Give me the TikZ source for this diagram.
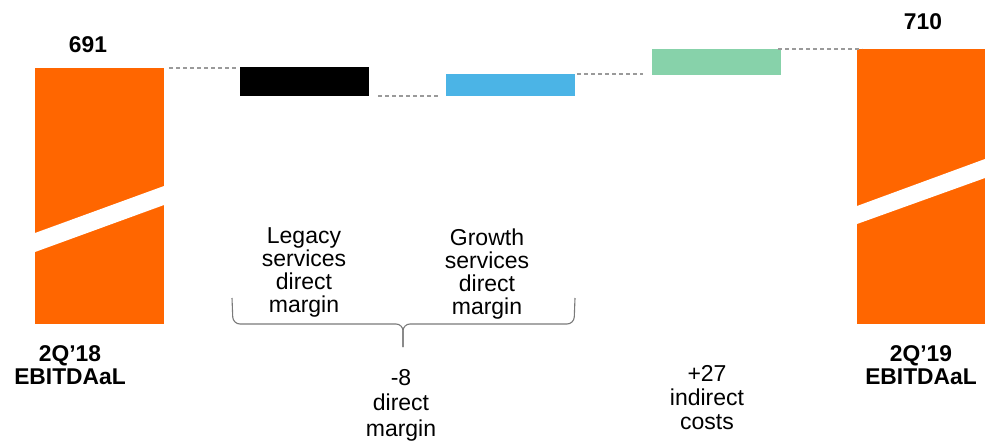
\documentclass[tikz,border=0pt]{standalone}
\usepackage{fontspec}
\setmainfont{Liberation Sans}
\definecolor{obar}{HTML}{FF6600}
\definecolor{bbar}{HTML}{4BB4E6}
\definecolor{gbar}{HTML}{87D2AA}
\definecolor{dashgray}{HTML}{9A9A9A}
\definecolor{bracegray}{HTML}{7A7A7A}
\begin{document}
\begin{tikzpicture}[x=1pt,y=-1pt,
  bar/.style={draw=none,inner sep=0pt,outer sep=0pt,anchor=north west},
  conn/.style={draw=dashgray,line width=1.4pt,dash pattern=on 4pt off 3pt},
  bracepath/.style={draw=bracegray,line width=1.1pt,rounded corners=7pt},
  lbl/.style={inner sep=0pt,align=center,font=\fontsize{23}{23}\selectfont},
  blbl/.style={inner sep=0pt,align=center,font=\fontsize{22.8}{23}\selectfont\bfseries},
  gap/.style={fill=white,draw=none}]
\useasboundingbox (0,0) rectangle (985,444);
% bars
\node[bar,fill=obar,minimum width=129pt,minimum height=256pt] (L) at (35,68) {};
\node[bar,fill=black,minimum width=129pt,minimum height=29pt] (B) at (240,67) {};
\node[bar,fill=bbar,minimum width=129pt,minimum height=22pt] (U) at (446,74) {};
\node[bar,fill=gbar,minimum width=129pt,minimum height=26pt] (G) at (652,49) {};
\node[bar,fill=obar,minimum width=128pt,minimum height=275pt] (R) at (857,49) {};
% break stripes
\fill[gap] (35,233) -- (164,186) -- (164,205) -- (35,252) -- cycle;
\fill[gap] (857,206) -- (985,159) -- (985,178) -- (857,224) -- cycle;
% connectors
\draw[conn] ([xshift=5pt]L.north east) -- ([xshift=-3pt]L.north east -| B.west);
\draw[conn] ([xshift=9pt]B.south east) -- ([xshift=-7pt]B.south east -| U.west);
\draw[conn] ([xshift=2pt]U.north east) -- ([xshift=-9pt]U.north east -| G.west);
\draw[conn] ([xshift=-3pt]G.north east) -- ([xshift=5pt]G.north east -| R.west);
% values
\node[blbl,anchor=base] (v1) at (88,52.7) {691};
\node[blbl,anchor=base] (v2) at (923,29.3) {710};
% category labels
\node[blbl,anchor=north] (c1) at (70,345) {2Q’18\\EBITDAaL};
\node[blbl,anchor=north] (c2) at (921,345) {2Q’19\\EBITDAaL};
\node[lbl,anchor=north] (t1) at (304,227) {Legacy\\services\\direct\\margin};
\node[lbl,anchor=north] (t2) at (487,229) {Growth\\services\\direct\\margin};
% brace
\coordinate (bl) at (232,298);
\coordinate (br) at (575,298);
\coordinate (bm) at (403,324);
\coordinate (bt) at (403,347);
\draw[bracepath] (bl) -- (233,324) -- (bm) -- (bt);
\draw[bracepath] (br) -- (574,324) -- (bm) -- (bt);
\node[lbl,anchor=north,font=\fontsize{23}{25.5}\selectfont] (t3) at (401,369) {-8\\direct\\margin};
\node[lbl,anchor=north,font=\fontsize{23}{24}\selectfont] (t4) at (707,365) {+27\\indirect\\costs};
\end{tikzpicture}
\end{document}
